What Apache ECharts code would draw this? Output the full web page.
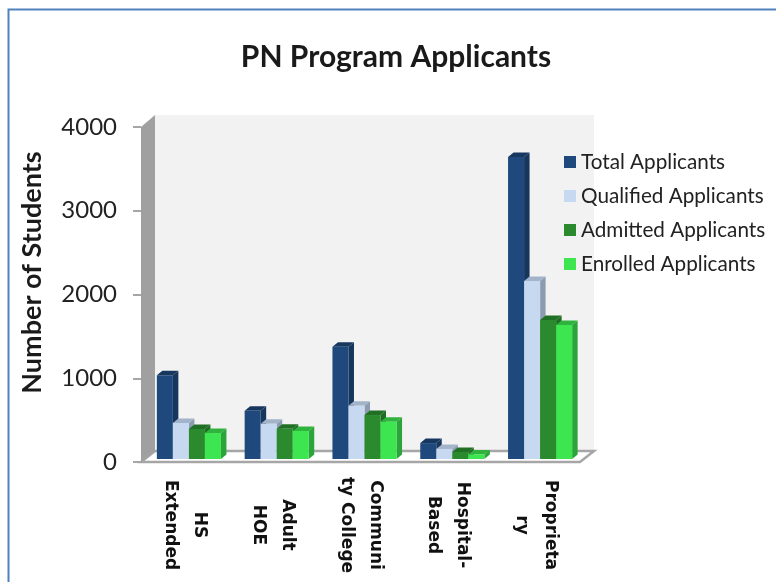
<!DOCTYPE html>
<html>
<head>
<meta charset="utf-8">
<title>PN Program Applicants</title>
<style>
    html, body { margin: 0; padding: 0; background: #fff; }
    #chart { width: 776px; height: 582px; }
</style>
<script src="https://cdn.jsdelivr.net/npm/echarts@6/dist/echarts.min.js"></script>
</head>
<body>
<div id="chart"></div>
<script>
(function() {
    'use strict';

    var categories = ['HS\nExtended', 'Adult\nHOE', 'Communi\nty College', 'Hospital-\nBased', 'Proprieta\nry'];
    var yTicks = [0, 1000, 2000, 3000, 4000];

    var seriesNames = ['Total Applicants', 'Qualified Applicants', 'Admitted Applicants', 'Enrolled Applicants'];
    var totalApplicants = [1000, 575, 1340, 190, 3605];
    var qualifiedApplicants = [430, 420, 635, 120, 2125];
    var admittedApplicants = [358, 360, 525, 85, 1660];
    var enrolledApplicants = [310, 335, 445, 55, 1600];

    // front / side / top of each bar
    var barColors = [
        ['#1f497d', '#16365c', '#17375e'],
        ['#c6d9f1', '#8c9bb0', '#a3b3c9'],
        ['#2b8a2e', '#1e6b22', '#1f6f24'],
        ['#3de651', '#2ba53a', '#2fb33e']
    ];

    var GRID = { left: 141, top: 127, right: 580, bottom: 462 };
    var WALL_DX = 14;
    var WALL_DY = 11;
    var BAR_DX = 5.5;
    var BAR_DY = 4.5;
    var BAR_SHIFT_X = 4;
    var BAR_BASE_UP = 3;
    var GREY = '#a6a6a6';
    var FONT = 'Lato';

    function poly(points, color) {
        return { type: 'polygon', shape: { points: points }, style: { fill: color } };
    }

    // 一根带厚度的柱子，位置全部来自坐标轴
    function bar3d(seriesIdx) {
        return function(params, api) {
            var idx = api.value(0);
            var top = api.coord([idx, api.value(1)]);
            var base = api.coord([idx, 0]);
            var w = api.size([1, 0])[0] * 0.1825;
            var x0 = top[0] + BAR_SHIFT_X + (seriesIdx - 2) * w;
            var x1 = x0 + w;
            var y0 = top[1] - BAR_BASE_UP;
            var y1 = base[1] - BAR_BASE_UP;
            var c = barColors[seriesIdx];
            return {
                type: 'group',
                children: [
                    poly([[x1, y0], [x1 + BAR_DX, y0 - BAR_DY], [x1 + BAR_DX, y1 - BAR_DY], [x1, y1]], c[1]),
                    poly([[x0, y0], [x0 + BAR_DX, y0 - BAR_DY], [x1 + BAR_DX, y0 - BAR_DY], [x1, y0]], c[2]),
                    { type: 'rect', shape: { x: x0, y: y0, width: w, height: y1 - y0 }, style: { fill: c[0] } }
                ]
            };
        };
    }

    function makeSeries(i, values) {
        return {
            type: 'custom',
            name: seriesNames[i],
            renderItem: bar3d(i),
            clip: false,
            itemStyle: { color: barColors[i][0] },
            encode: { x: 0, y: 1 },
            data: values.map(function(v, k) { return [k, v]; })
        };
    }

    var backdrop = [
        // back wall
        { type: 'rect', z: 0, shape: { x: GRID.left + WALL_DX, y: GRID.top - WALL_DY - 1, width: GRID.right - GRID.left, height: GRID.bottom - GRID.top + 1 }, style: { fill: '#f2f2f2' } },
        // floor
        { type: 'polygon', z: 1, shape: { points: [[GRID.left, GRID.bottom], [GRID.left + WALL_DX, GRID.bottom - WALL_DY], [GRID.right + WALL_DX, GRID.bottom - WALL_DY], [GRID.right, GRID.bottom]] }, style: { fill: '#fff', stroke: GREY, lineWidth: 2.5 } },
        // side wall
        { type: 'polygon', z: 1, shape: { points: [[GRID.left, GRID.top], [GRID.left + WALL_DX, GRID.top - WALL_DY - 1], [GRID.left + WALL_DX, GRID.bottom - WALL_DY], [GRID.left, GRID.bottom]] }, style: { fill: '#a0a0a0' } },
        // 外框
        { type: 'polyline', z: 5, shape: { points: [[8.5, 582], [8.5, 9.5], [776, 9.5]] }, style: { fill: 'none', stroke: '#4f81bd', lineWidth: 2 } }
    ];

    var option = {
        animation: false,
        backgroundColor: '#fff',
        title: {
            text: 'PN Program Applicants',
            left: 391,
            top: 37,
            textAlign: 'center',
            textStyle: { fontFamily: FONT, fontSize: 30, fontWeight: 'bold', color: '#1a1a1a' }
        },
        legend: {
            orient: 'vertical',
            left: 559,
            top: 146,
            itemWidth: 12,
            itemHeight: 12,
            itemGap: 12,
            icon: 'rect',
            data: seriesNames,
            textStyle: { fontFamily: FONT, fontSize: 20.7, color: '#222', lineHeight: 22 }
        },
        grid: {
            left: GRID.left,
            top: GRID.top,
            width: GRID.right - GRID.left,
            height: GRID.bottom - GRID.top,
            containLabel: false
        },
        xAxis: {
            type: 'category',
            data: categories,
            axisLine: { show: false },
            axisTick: { show: false },
            splitLine: { show: false },
            axisLabel: {
                interval: 0,
                rotate: -90,
                align: 'center',
                verticalAlign: 'middle',
                margin: 63,
                lineHeight: 29,
                fontFamily: 'DejaVu Sans',
                fontSize: 17,
                fontWeight: 'bold',
                color: '#111'
            }
        },
        yAxis: {
            type: 'value',
            min: yTicks[0],
            max: yTicks[yTicks.length - 1],
            interval: yTicks[1] - yTicks[0],
            name: 'Number of Students',
            nameLocation: 'middle',
            nameRotate: 90,
            nameGap: 95,
            nameTextStyle: { fontFamily: FONT, fontSize: 27, fontWeight: 'bold', color: '#1a1a1a', padding: [0, 0, 0, 44] },
            axisLine: { show: false },
            axisTick: { show: true, length: 8, lineStyle: { color: GREY, width: 2 } },
            splitLine: { show: false },
            axisLabel: {
                margin: 24,
                fontFamily: FONT,
                fontSize: 24,
                color: '#222',
                formatter: function(v) { return String(v); }
            }
        },
        graphic: backdrop,
        series: [
            makeSeries(0, totalApplicants),
            makeSeries(1, qualifiedApplicants),
            makeSeries(2, admittedApplicants),
            makeSeries(3, enrolledApplicants)
        ]
    };

    var chart = echarts.init(document.getElementById('chart'));
    chart.setOption(option);
})();
</script>
</body>
</html>
